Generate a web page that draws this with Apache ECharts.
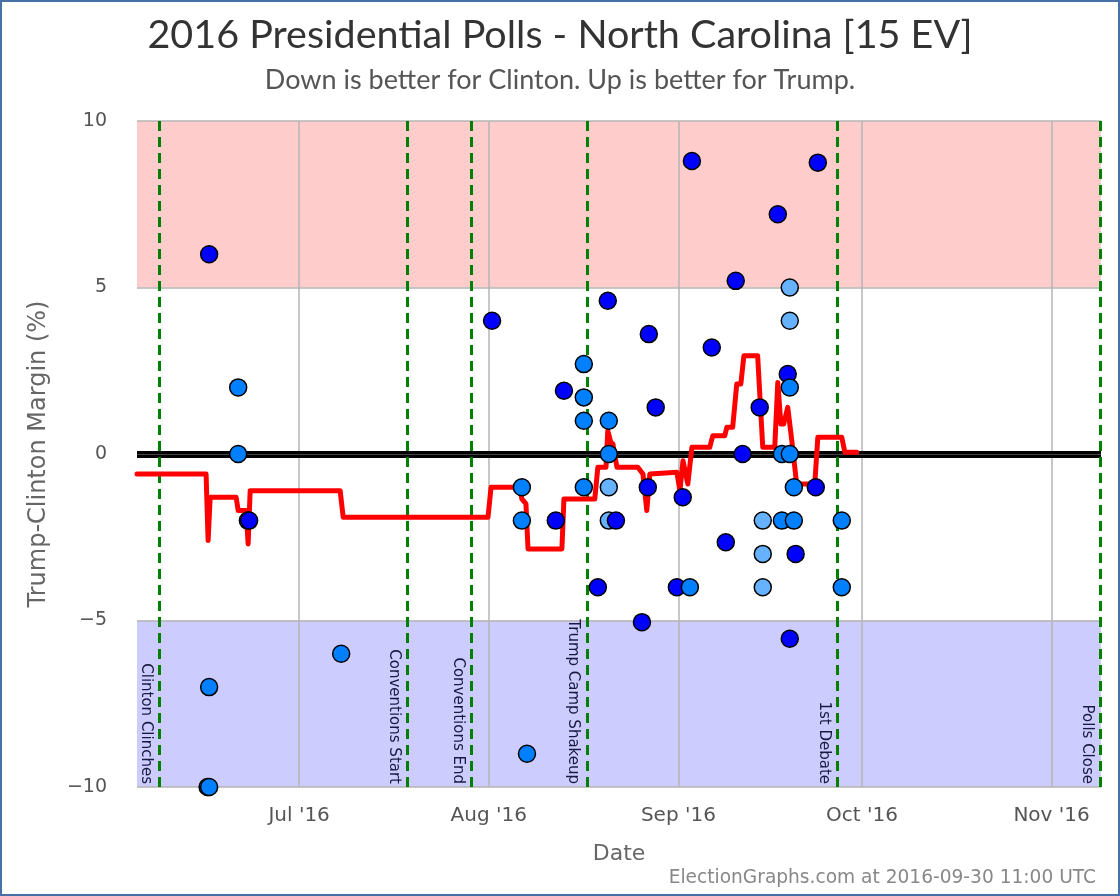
<!DOCTYPE html>
<html><head><meta charset="utf-8">
<script src="https://cdn.jsdelivr.net/npm/echarts@6/dist/echarts.min.js"></script>
<style>html,body{margin:0;padding:0;background:#fff}#c{width:1120px;height:896px}</style>
</head><body><div id="c"></div>
<script>
// ---------- DATA ----------
const pollDates = [
  "2016-06-16 01:00","2016-06-16 07:00","2016-06-16 07:00","2016-06-16 07:00",
  "2016-06-21 01:00","2016-06-21 01:00","2016-06-22 15:00","2016-06-22 20:00",
  "2016-07-07 21:00","2016-08-01 13:00","2016-08-06 10:00","2016-08-06 10:00",
  "2016-08-07 06:00","2016-08-11 23:00","2016-08-13 07:00","2016-08-16 13:00",
  "2016-08-16 13:00","2016-08-16 13:00","2016-08-16 13:00","2016-08-18 20:00",
  "2016-08-20 11:00","2016-08-20 15:00","2016-08-20 15:00","2016-08-20 15:00",
  "2016-08-20 15:00","2016-08-21 19:00","2016-08-26 01:00","2016-08-27 00:00",
  "2016-08-27 04:00","2016-08-28 07:00","2016-08-31 18:00","2016-09-01 17:00",
  "2016-09-02 21:00","2016-09-03 05:00","2016-09-06 11:00","2016-09-08 18:00",
  "2016-09-10 09:00","2016-09-11 12:00","2016-09-14 07:00","2016-09-14 19:00",
  "2016-09-14 19:00","2016-09-14 19:00","2016-09-17 06:00","2016-09-17 22:00",
  "2016-09-17 22:00","2016-09-18 21:00","2016-09-19 05:00","2016-09-19 05:00",
  "2016-09-19 05:00","2016-09-19 05:00","2016-09-19 05:00","2016-09-19 21:00",
  "2016-09-19 21:00","2016-09-20 04:00","2016-09-23 11:00","2016-09-23 19:00",
  "2016-09-27 17:00","2016-09-27 17:00"
];
const pollValues = [
  -10, 6, -10, -7,
  2, 0, -2, -2,
  -6, 4, -1, -2,
  -9, -2, 1.9, 2.7,
  1.7, 1, -1, -4,
  4.6, 1, 0, -1,
  -2, -2, -5.05, -1,
  3.6, 1.4, -4, -1.3,
  -4, 8.8, 3.2, -2.65,
  5.2, 0, 1.4, -2,
  -3, -4, 7.2, 0,
  -2, 2.4, 2, 5,
  4, 0, -5.55, -1,
  -2, -3, -1, 8.75,
  -2, -4
];
// 0 = dark, 1 = medium, 2 = light
const pollGroups = [
  1, 0, 1, 1,
  1, 1, 0, 0,
  1, 0, 1, 1,
  1, 0, 0, 1,
  1, 1, 1, 0,
  0, 1, 1, 2,
  2, 0, 0, 0,
  0, 0, 0, 0,
  1, 0, 0, 0,
  0, 0, 0, 2,
  2, 2, 0, 1,
  1, 0, 1, 2,
  2, 1, 0, 1,
  1, 0, 0, 0,
  1, 1
];
const trendDates = [
  "2016-06-04 12:00","2016-06-15 19:00","2016-06-16 03:00","2016-06-16 11:00","2016-06-20 17:00",
  "2016-06-21 01:00","2016-06-22 08:00","2016-06-22 16:00","2016-06-23 00:00","2016-07-07 17:00",
  "2016-07-08 05:00","2016-07-31 21:00","2016-08-01 09:00","2016-08-06 02:00","2016-08-06 10:00",
  "2016-08-07 02:00","2016-08-07 10:00","2016-08-12 23:00","2016-08-13 07:00","2016-08-18 08:00",
  "2016-08-18 20:00","2016-08-20 04:00","2016-08-20 11:00","2016-08-20 23:00","2016-08-21 07:00",
  "2016-08-21 23:00","2016-08-25 09:00","2016-08-26 05:00","2016-08-26 20:00","2016-08-27 08:00",
  "2016-08-31 18:00","2016-09-01 06:00","2016-09-01 18:00","2016-09-02 13:00","2016-09-03 05:00",
  "2016-09-06 03:00","2016-09-06 15:00","2016-09-08 14:00","2016-09-08 22:00","2016-09-09 21:00",
  "2016-09-10 13:00","2016-09-11 05:00","2016-09-11 17:00","2016-09-13 23:00","2016-09-14 19:00",
  "2016-09-16 18:00","2016-09-17 06:00","2016-09-17 18:00","2016-09-18 05:00","2016-09-18 21:00",
  "2016-09-19 13:00","2016-09-20 08:00","2016-09-23 07:00","2016-09-23 19:00","2016-09-27 17:00",
  "2016-09-28 05:00","2016-09-30 04:00"
];
const trendValues = [
  -0.6, -0.6, -2.6, -1.3, -1.3,
  -1.7, -1.7, -2.7, -1.1, -1.1,
  -1.9, -1.9, -1.0, -1.0, -1.35,
  -1.5, -2.85, -2.85, -1.35, -1.35,
  -0.4, -0.4, 0.7, 0.35, 0.3,
  -0.4, -0.4, -0.6, -1.7, -0.6,
  -0.55, -1.1, -0.2, -0.9, 0.2,
  0.2, 0.55, 0.55, 0.8, 0.8,
  2.1, 2.1, 2.95, 2.95, 0.2,
  0.2, 2.15, 0.9, 0.9, 1.4,
  0.4, -0.9, -0.9, 0.5, 0.5,
  0.05, 0.05
];
const eventNames = ["Clinton Clinches","Conventions Start","Conventions End","Trump Camp Shakeup","1st Debate","Polls Close"];
const eventDates = ["2016-06-08 04:00","2016-07-18 16:00","2016-07-29 04:00","2016-08-17 01:00","2016-09-27 01:00","2016-11-09 00:00"];
const monthTicks = ["2016-07-01 00:00","2016-08-01 00:00","2016-09-01 00:00","2016-10-01 00:00","2016-11-01 00:00"];
const yTicks = [-10, -5, 0, 5, 10];
const xRange = ["2016-06-04 12:00", "2016-11-09 02:00"];
const redZone = [5, 10];
const blueZone = [-10, -5];

// ---------- STYLE / HELPERS ----------
const FONT = 'DejaVu Sans';
const POLL_COLORS = ['#0000ff', '#0080ff', '#66b2ff'];
const MONTHS = ['Jan','Feb','Mar','Apr','May','Jun','Jul','Aug','Sep','Oct','Nov','Dec'];
function ts(s) {
  const [d, t = '00:00'] = s.split(' ');
  const [Y, M, D] = d.split('-').map(Number);
  const [h, m] = t.split(':').map(Number);
  return Date.UTC(Y, M - 1, D, h, m);
}
function monthLabel(v) {
  const d = new Date(v);
  return MONTHS[d.getUTCMonth()] + " '" + String(d.getUTCFullYear()).slice(2);
}
const yTop = yTicks[yTicks.length - 1], yBot = yTicks[0];

const chart = echarts.init(document.getElementById('c'), null, { renderer: 'canvas' });

const gridLineStyle = { color: '#b4b4b4', width: 1.5, type: 'solid' };

const option = {
  animation: false,
  backgroundColor: '#ffffff',
  title: [
    {
      text: '2016 Presidential Polls - North Carolina [15 EV]',
      subtext: 'Down is better for Clinton. Up is better for Trump.',
      left: 'center', top: 10, itemGap: 12,
      textStyle: { fontFamily: 'Lato', fontSize: 39.5, fontWeight: 'normal', color: '#333333' },
      subtextStyle: { fontFamily: 'Lato', fontSize: 27, color: '#555555' }
    },
    {
      text: 'ElectionGraphs.com at 2016-09-30 11:00 UTC',
      right: 19, bottom: 3,
      textStyle: { fontFamily: FONT, fontSize: 18.6, fontWeight: 'normal', color: '#888888' }
    }
  ],
  graphic: [{
    type: 'rect', silent: true, z: 100,
    shape: { x: 1, y: 1, width: 1118, height: 894 },
    style: { fill: 'none', stroke: '#4670a8', lineWidth: 2 }
  }],
  grid: { left: 137, right: 19, top: 121, bottom: 109, containLabel: false },
  xAxis: {
    type: 'value',
    min: ts(xRange[0]), max: ts(xRange[1]),
    axisLine: { show: false }, axisTick: { show: false }, splitLine: { show: false },
    axisLabel: {
      customValues: monthTicks.map(ts),
      formatter: v => monthLabel(v),
      color: '#555555', fontSize: 20, fontFamily: FONT, margin: 19
    },
    name: 'Date', nameLocation: 'middle', nameGap: 56,
    nameTextStyle: { color: '#666666', fontSize: 22, fontFamily: FONT }
  },
  yAxis: {
    type: 'value', min: yBot, max: yTop, interval: 5,
    axisLine: { show: false }, axisTick: { show: false }, splitLine: { show: false },
    axisLabel: {
      color: '#555555', fontSize: 19, fontFamily: FONT, margin: 30,
      formatter: v => String(v).replace('-', '\u2212')
    },
    name: 'Trump-Clinton Margin (%)', nameLocation: 'middle', nameGap: 86,
    nameTextStyle: { color: '#666666', fontSize: 24, fontFamily: FONT }
  },
  series: [
    { // background zones
      type: 'line', data: [], z: 1, silent: true,
      markArea: {
        silent: true,
        data: [
          [{ yAxis: redZone[0], itemStyle: { color: '#ffcccc' } }, { yAxis: redZone[1] }],
          [{ yAxis: blueZone[0], itemStyle: { color: '#ccccff' } }, { yAxis: blueZone[1] }]
        ]
      }
    },
    { // grid lines
      type: 'line', data: [], z: 2, silent: true,
      markLine: {
        silent: true, symbol: ['none', 'none'], label: { show: false },
        lineStyle: gridLineStyle,
        data: monthTicks.map(m => ({ xAxis: ts(m) }))
          .concat(yTicks.filter(v => v !== 0).map(v => ({ yAxis: v })))
      }
    },
    { // zero line
      type: 'line', data: [], z: 3, silent: true,
      markLine: {
        silent: true, symbol: ['none', 'none'], label: { show: false },
        data: [
          { yAxis: 0, lineStyle: { color: '#000000', width: 7, type: 'solid' } },
          { yAxis: 0, lineStyle: { color: '#444444', width: 1, type: 'solid' } }
        ]
      }
    },
    { // events
      type: 'line', data: [], z: 4, silent: true,
      markLine: {
        silent: true, symbol: ['none', 'none'],
        lineStyle: { color: '#008000', width: 3, type: [10, 6] },
        label: {
          show: true, position: 'insideEndBottom', formatter: '{b}',
          color: '#1a1a40', fontSize: 15, fontFamily: FONT, distance: [3, 6]
        },
        data: eventDates.map((d, i) => [
          { name: eventNames[i], coord: [ts(d), yTop] },
          { coord: [ts(d), yBot] }
        ])
      }
    },
    { // trend
      type: 'line', z: 5, showSymbol: false, silent: true,
      lineStyle: { color: '#ff0000', width: 5, cap: 'round', join: 'round' },
      data: trendDates.map((d, i) => [ts(d), trendValues[i]])
    },
    { // polls
      type: 'scatter', z: 6, symbol: 'circle', symbolSize: 17, silent: true,
      itemStyle: { borderColor: '#000000', borderWidth: 1.5, opacity: 1 },
      data: pollDates.map((d, i) => ({
        value: [ts(d), pollValues[i]],
        itemStyle: { color: POLL_COLORS[pollGroups[i]] }
      }))
    }
  ]
};
chart.setOption(option);
</script>
</body></html>
